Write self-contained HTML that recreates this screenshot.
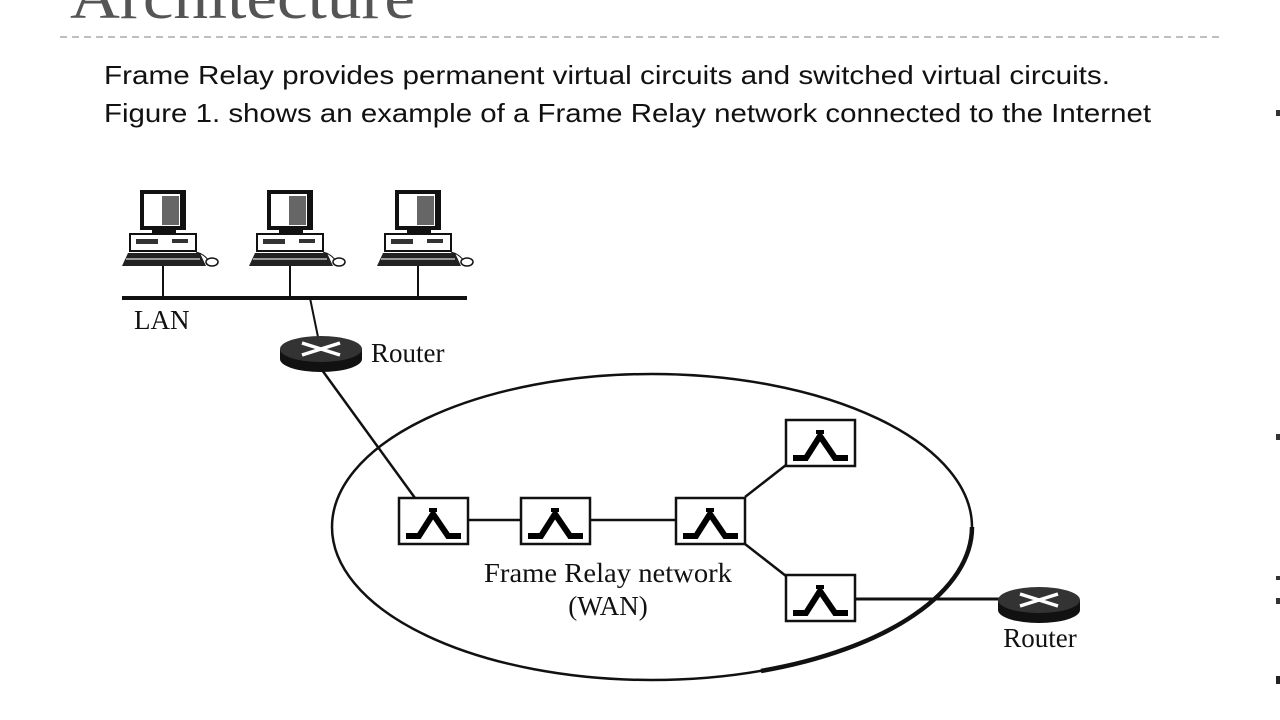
<!DOCTYPE html>
<html><head><meta charset="utf-8"><style>
html,body{margin:0;padding:0;background:#fff;}
svg{display:block}
</style></head><body>
<svg width="1280" height="720" viewBox="0 0 1280 720" xmlns="http://www.w3.org/2000/svg">
<defs>
<g id="pc">
  <rect x="18" y="0" width="46" height="40" fill="#111"/>
  <rect x="22" y="4" width="36" height="32" fill="#fff"/>
  <rect x="40" y="6" width="17" height="29" fill="#666"/>
  <rect x="30" y="40" width="24" height="4" fill="#111"/>
  <rect x="8" y="44" width="66" height="17" fill="#fff" stroke="#111" stroke-width="2"/>
  <rect x="14" y="49" width="22" height="5" fill="#333"/>
  <rect x="50" y="49" width="16" height="4" fill="#333"/>
  <polygon points="6,63 78,63 84,76 0,76" fill="#222"/>
  <rect x="4" y="68" width="74" height="2" fill="#999"/>
  <ellipse cx="90" cy="72" rx="6" ry="4" fill="#fff" stroke="#111" stroke-width="1.5"/>
  <path d="M74,62 Q82,64 86,70" stroke="#111" fill="none" stroke-width="1"/>
</g>
<g id="sw">
  <rect x="0" y="0" width="69" height="46" fill="#fff" stroke="#111" stroke-width="2.5"/>
  <path d="M7,38 L20,38 L34,16 L49,38 L62,38" stroke="#000" stroke-width="6" fill="none" stroke-linejoin="miter"/>
  <path d="M30,12 L38,12" stroke="#000" stroke-width="4"/>
</g>
<g id="rt">
  <ellipse cx="41" cy="23" rx="41" ry="13" fill="#111"/>
  <rect x="0" y="13" width="82" height="10" fill="#111"/>
  <ellipse cx="41" cy="13" rx="41" ry="13" fill="#333"/>
  <path d="M22,7 L60,19 M22,19 L60,7" stroke="#fff" stroke-width="3.5"/>
</g>
</defs>

<text x="70" y="18" font-family="Liberation Serif, serif" font-size="62" fill="#555" textLength="345" lengthAdjust="spacingAndGlyphs">Architecture</text>
<line x1="60" y1="37" x2="1222" y2="37" stroke="#aaa" stroke-width="1.5" stroke-dasharray="7,5"/>

<text x="104" y="84" font-family="Liberation Sans, sans-serif" font-size="26" fill="#111" textLength="1006" lengthAdjust="spacingAndGlyphs">Frame Relay provides permanent virtual circuits and switched virtual circuits.</text>
<text x="104" y="122" font-family="Liberation Sans, sans-serif" font-size="26" fill="#111" textLength="1047" lengthAdjust="spacingAndGlyphs">Figure 1. shows an example of a Frame Relay network connected to the Internet</text>

<use href="#pc" x="122" y="190"/>
<use href="#pc" x="249" y="190"/>
<use href="#pc" x="377" y="190"/>
<line x1="163" y1="266" x2="163" y2="298" stroke="#111" stroke-width="2"/>
<line x1="290" y1="266" x2="290" y2="298" stroke="#111" stroke-width="2"/>
<line x1="418" y1="266" x2="418" y2="298" stroke="#111" stroke-width="2"/>
<line x1="122" y1="298" x2="467" y2="298" stroke="#111" stroke-width="4"/>
<text x="134" y="329" font-family="Liberation Serif, serif" font-size="27" fill="#111">LAN</text>
<line x1="310" y1="298" x2="318" y2="337" stroke="#111" stroke-width="2"/>
<use href="#rt" x="280" y="336"/>
<text x="371" y="362" font-family="Liberation Serif, serif" font-size="27" fill="#111">Router</text>
<line x1="322" y1="370" x2="415" y2="498" stroke="#111" stroke-width="2.5"/>

<ellipse cx="652" cy="527" rx="320" ry="153" fill="none" stroke="#111" stroke-width="2.5"/>
<path d="M972,527 A320,153 0 0 1 761,671" stroke="#111" stroke-width="4.5" fill="none"/>

<line x1="467" y1="520" x2="521" y2="520" stroke="#111" stroke-width="2.5"/>
<line x1="590" y1="520" x2="675" y2="520" stroke="#111" stroke-width="2.5"/>
<line x1="745" y1="497" x2="786" y2="465" stroke="#111" stroke-width="2.5"/>
<line x1="745" y1="544" x2="786" y2="576" stroke="#111" stroke-width="2.5"/>
<line x1="854" y1="599" x2="1000" y2="599" stroke="#111" stroke-width="3"/>

<use href="#sw" x="399" y="498"/>
<use href="#sw" x="521" y="498"/>
<use href="#sw" x="676" y="498"/>
<use href="#sw" x="786" y="420"/>
<use href="#sw" x="786" y="575"/>

<text x="608" y="582" text-anchor="middle" font-family="Liberation Serif, serif" font-size="27" fill="#111" textLength="248" lengthAdjust="spacingAndGlyphs">Frame Relay network</text>
<text x="608" y="615" text-anchor="middle" font-family="Liberation Serif, serif" font-size="27" fill="#111">(WAN)</text>

<use href="#rt" x="998" y="587"/>
<text x="1040" y="647" text-anchor="middle" font-family="Liberation Serif, serif" font-size="27" fill="#111">Router</text>

<rect x="1276" y="110" width="4" height="6" fill="#333"/>
<rect x="1276" y="434" width="4" height="6" fill="#333"/>
<rect x="1276" y="576" width="4" height="4" fill="#333"/>
<rect x="1276" y="598" width="4" height="6" fill="#333"/>
<rect x="1276" y="676" width="4" height="8" fill="#222"/>
</svg>
</body></html>
